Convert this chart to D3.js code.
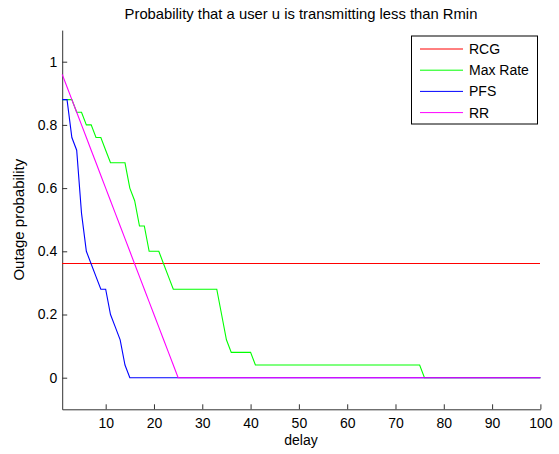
<!DOCTYPE html>
<html>
<head>
<meta charset="utf-8">
<script src="https://cdn.jsdelivr.net/npm/d3@7"></script>
<style>
  body { margin: 0; background: #fff; }
  text { font-family: 'Liberation Sans', Arial, sans-serif; }
</style>
</head>
<body>
<svg id="chart"></svg>
<script>
const delay = d3.range(1, 101);

const seriesNames = ['RCG', 'Max Rate', 'PFS', 'RR'];

const rcg = [
  0.36, 0.36, 0.36, 0.36, 0.36, 0.36, 0.36, 0.36, 0.36, 0.36,
  0.36, 0.36, 0.36, 0.36, 0.36, 0.36, 0.36, 0.36, 0.36, 0.36,
  0.36, 0.36, 0.36, 0.36, 0.36, 0.36, 0.36, 0.36, 0.36, 0.36,
  0.36, 0.36, 0.36, 0.36, 0.36, 0.36, 0.36, 0.36, 0.36, 0.36,
  0.36, 0.36, 0.36, 0.36, 0.36, 0.36, 0.36, 0.36, 0.36, 0.36,
  0.36, 0.36, 0.36, 0.36, 0.36, 0.36, 0.36, 0.36, 0.36, 0.36,
  0.36, 0.36, 0.36, 0.36, 0.36, 0.36, 0.36, 0.36, 0.36, 0.36,
  0.36, 0.36, 0.36, 0.36, 0.36, 0.36, 0.36, 0.36, 0.36, 0.36,
  0.36, 0.36, 0.36, 0.36, 0.36, 0.36, 0.36, 0.36, 0.36, 0.36,
  0.36, 0.36, 0.36, 0.36, 0.36, 0.36, 0.36, 0.36, 0.36, 0.36
];

const maxRate = [
  0.88, 0.88, 0.88, 0.84, 0.84, 0.80, 0.80, 0.76, 0.76, 0.72,
  0.68, 0.68, 0.68, 0.68, 0.60, 0.56, 0.48, 0.48, 0.40, 0.40,
  0.40, 0.36, 0.32, 0.28, 0.28, 0.28, 0.28, 0.28, 0.28, 0.28,
  0.28, 0.28, 0.28, 0.20, 0.12, 0.08, 0.08, 0.08, 0.08, 0.08,
  0.04, 0.04, 0.04, 0.04, 0.04, 0.04, 0.04, 0.04, 0.04, 0.04,
  0.04, 0.04, 0.04, 0.04, 0.04, 0.04, 0.04, 0.04, 0.04, 0.04,
  0.04, 0.04, 0.04, 0.04, 0.04, 0.04, 0.04, 0.04, 0.04, 0.04,
  0.04, 0.04, 0.04, 0.04, 0.04, 0, 0, 0, 0, 0,
  0, 0, 0, 0, 0, 0, 0, 0, 0, 0,
  0, 0, 0, 0, 0, 0, 0, 0, 0, 0
];

const pfs = [
  0.88, 0.88, 0.76, 0.72, 0.52, 0.40, 0.36, 0.32, 0.28, 0.28,
  0.20, 0.16, 0.12, 0.04, 0, 0, 0, 0, 0, 0,
  0, 0, 0, 0, 0, 0, 0, 0, 0, 0,
  0, 0, 0, 0, 0, 0, 0, 0, 0, 0,
  0, 0, 0, 0, 0, 0, 0, 0, 0, 0,
  0, 0, 0, 0, 0, 0, 0, 0, 0, 0,
  0, 0, 0, 0, 0, 0, 0, 0, 0, 0,
  0, 0, 0, 0, 0, 0, 0, 0, 0, 0,
  0, 0, 0, 0, 0, 0, 0, 0, 0, 0,
  0, 0, 0, 0, 0, 0, 0, 0, 0, 0
];

const rr = [
  0.96, 0.92, 0.88, 0.84, 0.80, 0.76, 0.72, 0.68, 0.64, 0.60,
  0.56, 0.52, 0.48, 0.44, 0.40, 0.36, 0.32, 0.28, 0.24, 0.20,
  0.16, 0.12, 0.08, 0.04, 0, 0, 0, 0, 0, 0,
  0, 0, 0, 0, 0, 0, 0, 0, 0, 0,
  0, 0, 0, 0, 0, 0, 0, 0, 0, 0,
  0, 0, 0, 0, 0, 0, 0, 0, 0, 0,
  0, 0, 0, 0, 0, 0, 0, 0, 0, 0,
  0, 0, 0, 0, 0, 0, 0, 0, 0, 0,
  0, 0, 0, 0, 0, 0, 0, 0, 0, 0,
  0, 0, 0, 0, 0, 0, 0, 0, 0, 0
];

const xTicks = [10, 20, 30, 40, 50, 60, 70, 80, 90, 100];
const yTicks = [0, 0.2, 0.4, 0.6, 0.8, 1];

const width = 559;
const height = 454;

const svg = d3.select('#chart')
  .attr('width', width)
  .attr('height', height);

const x = d3.scaleLinear().domain([1, 100]).range([62.2, 540.4]);
const y = d3.scaleLinear().domain([-0.1, 1.1]).range([409.3, 30.1]);

const color = d3.scaleOrdinal(seriesNames, ['#ff0000', '#00ff00', '#0000ff', '#ff00ff']);
const values = [rcg, maxRate, pfs, rr];

// axes, ticks pointing inward like matlab
const xAxis = svg.append('g')
  .attr('transform', `translate(0,${y(-0.1)})`)
  .call(d3.axisBottom(x).tickValues(xTicks).tickSizeInner(-5).tickSizeOuter(0).tickPadding(9));

const yAxis = svg.append('g')
  .attr('transform', `translate(${x(1)},0)`)
  .call(d3.axisLeft(y).tickValues(yTicks).tickFormat(d3.format('~g')).tickSizeInner(-5).tickSizeOuter(0).tickPadding(5));

[xAxis, yAxis].forEach(a => {
  a.select('.domain').attr('stroke', '#333');
  a.selectAll('.tick line').attr('stroke', '#333');
  a.selectAll('text').attr('font-size', 14).attr('fill', '#000')
    .attr('font-family', "'Liberation Sans', Arial, sans-serif");
});

const line = d3.line()
  .x((d, i) => x(delay[i]))
  .y(d => y(d));

// the flat RCG line is drawn crisp, the others antialiased
svg.append('g')
  .selectAll('path')
  .data(values)
  .enter()
  .append('path')
  .attr('d', line)
  .attr('fill', 'none')
  .attr('stroke', (d, i) => color(seriesNames[i]))
  .attr('stroke-width', (d, i) => (i === 0 ? 1 : 1.1))
  .attr('shape-rendering', (d, i) => (i === 0 ? 'crispEdges' : 'auto'));

svg.append('text')
  .attr('x', 301)
  .attr('y', 19)
  .attr('text-anchor', 'middle')
  .attr('font-size', 14.8)
  .text('Probability that a user u is transmitting less than Rmin');

svg.append('text')
  .attr('x', 301)
  .attr('y', 445)
  .attr('text-anchor', 'middle')
  .attr('font-size', 14)
  .text('delay');

svg.append('text')
  .attr('transform', `translate(24,${(y(-0.1) + y(1.1)) / 2}) rotate(-90)`)
  .attr('text-anchor', 'middle')
  .attr('font-size', 15)
  .text('Outage probability');

// legend
const legend = svg.append('g')
  .attr('transform', 'translate(411.5,36)');

legend.append('rect')
  .attr('width', 126)
  .attr('height', 88)
  .attr('fill', '#fff')
  .attr('stroke', '#000');

const item = legend.selectAll('.item')
  .data(seriesNames)
  .enter()
  .append('g')
  .attr('class', 'item')
  .attr('transform', (d, i) => `translate(0,${13 + i * 21.2})`);

item.append('line')
  .attr('x1', 8.5)
  .attr('x2', 51.5)
  .attr('stroke', d => color(d));

item.append('text')
  .attr('x', 57.5)
  .attr('dy', '0.36em')
  .attr('font-size', 14)
  .text(d => d);
</script>
</body>
</html>
